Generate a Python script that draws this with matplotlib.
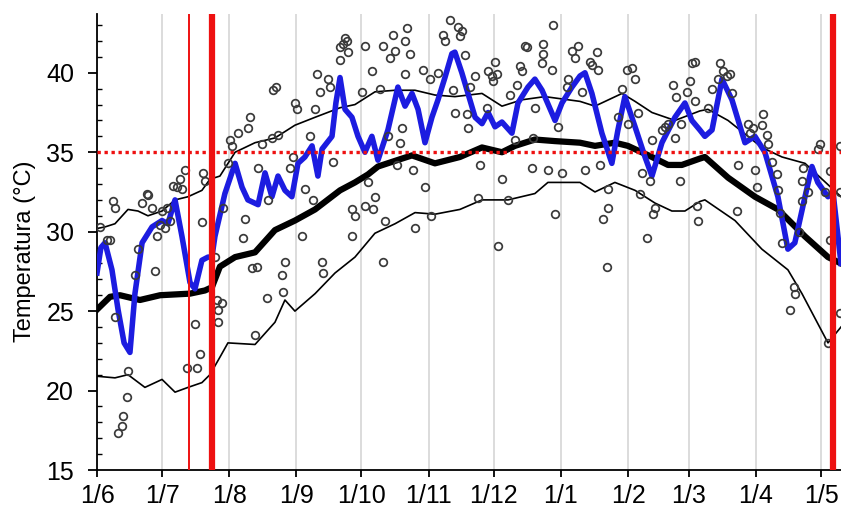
import matplotlib
matplotlib.use("Agg")
import matplotlib.pyplot as plt
from matplotlib.ticker import MultipleLocator

plt.rcParams['font.family'] = ['Liberation Sans', 'DejaVu Sans']

# ---- data (x = days since 1 June) ----
month_days = [0, 30, 61, 92, 122, 153, 183, 214, 245, 273, 304, 334]
month_labels = ['1/6', '1/7', '1/8', '1/9', '1/10', '1/11', '1/12',
                '1/1', '1/2', '1/3', '1/4', '1/5']

mean_days = [0, 6.0, 10.6, 19.8, 29.1, 42.9, 49.8, 53.0, 56.7, 63.7, 72.9, 82.1,
             91.3, 100.6, 112.1, 119.0, 125.0, 129.6, 140.7, 145.3, 155.9, 167.4,
             177.6, 186.8, 192.8, 202.0, 211.3, 222.8, 229.7, 238.9, 244.9, 256.0,
             263.4, 269.8, 278.1, 280.4, 291.1, 303.5, 314.1, 326.6, 337.2, 343.2]
mean_vals = [25.1, 25.9, 26.0, 25.7, 26.0, 26.1, 26.3, 26.5, 27.8, 28.4, 28.7, 30.1,
             30.7, 31.4, 32.6, 33.1, 33.6, 34.1, 34.6, 34.8, 34.3, 34.7,
             35.3, 35.0, 35.4, 35.8, 35.7, 35.6, 35.4, 35.6, 35.4, 34.7,
             34.2, 34.2, 34.6, 34.7, 33.4, 32.2, 31.4, 29.7, 28.4, 28.0]

upper_days = [0, 3.7, 8.3, 14.3, 18.9, 23.5, 30.0, 36.0, 42.0, 48.4, 52.1, 56.7,
              63.7, 72.9, 82.1, 91.3, 100.6, 112.1, 119.0, 128.2, 137.5, 146.7,
              155.9, 165.1, 177.6, 186.8, 196.0, 206.6, 222.8, 229.7, 242.2, 248.2,
              256.0, 266.6, 278.1, 281.8, 291.1, 306.7, 316.0, 326.6, 343.2]
upper_vals = [30.2, 30.3, 30.5, 31.4, 31.3, 31.0, 31.3, 32.0, 32.2, 32.6, 33.3, 33.5,
              35.0, 35.6, 35.9, 36.7, 37.2, 37.8, 38.0, 38.8, 38.9, 38.9,
              38.6, 38.5, 38.7, 37.9, 38.3, 38.5, 38.2, 37.9, 38.7, 38.2,
              37.5, 37.0, 37.6, 37.7, 37.0, 35.3, 34.7, 34.3, 32.2]

lower_days = [0, 8.3, 14.3, 22.1, 30.0, 36.0, 42.0, 48.4, 52.1, 56.7, 60.4, 72.9,
              82.1, 86.7, 91.3, 100.6, 109.8, 119.0, 128.2, 137.5, 146.7, 155.9,
              167.4, 177.6, 189.6, 202.0, 208.0, 222.8, 229.7, 238.9, 248.2, 257.4,
              265.2, 271.2, 278.1, 280.4, 294.3, 306.7, 318.7, 325.2, 337.2, 343.2]
lower_vals = [20.9, 20.8, 21.0, 20.2, 20.7, 19.9, 20.2, 20.5, 21.0, 22.1, 23.0, 22.9,
              24.3, 25.7, 25.0, 26.1, 27.4, 28.4, 29.9, 30.5, 31.2, 31.1,
              31.4, 32.0, 32.0, 32.4, 33.1, 33.1, 32.5, 33.1, 32.6, 31.8,
              31.3, 31.3, 31.9, 32.0, 30.7, 28.9, 27.6, 26.1, 23.0, 24.0]

blue_days = [0, 1.8, 3.7, 6.9, 9.7, 12.5, 15.2, 17.5, 20.8, 25.4, 30.0, 32.7,
             36.0, 39.2, 42.9, 45.2, 48.4, 51.2, 53.0, 54.4, 59.0, 63.7, 66.9,
             69.6, 74.3, 77.5, 80.7, 83.5, 86.7, 89.9, 92.7, 95.9, 99.2, 101.9,
             103.8, 108.4, 110.2, 112.1, 114.4, 117.6, 120.4, 123.6, 126.8, 129.6,
             134.2, 138.8, 142.1, 145.3, 148.1, 151.3, 154.5, 157.3, 160.5, 163.7,
             165.1, 168.3, 174.4, 177.6, 180.4, 183.6, 186.8, 191.4, 194.2, 198.8,
             202.0, 205.3, 211.3, 214.5, 219.1, 222.8, 225.1, 228.3, 232.9, 237.5,
             240.3, 243.5, 248.2, 252.8, 256.0, 260.6, 266.6, 271.2, 274.4, 278.1,
             280.4, 283.7, 288.3, 292.9, 298.9, 303.5, 308.1, 314.1, 318.7, 321.9,
             326.6, 329.8, 332.5, 337.2, 339.5, 343.2]
blue_vals = [27.4, 29.0, 29.3, 27.6, 25.1, 23.0, 22.4, 26.1, 29.3, 30.3, 30.7, 30.5,
             32.0, 29.7, 26.8, 26.4, 28.2, 28.4, 28.4, 29.7, 32.4, 34.3, 32.8,
             32.0, 31.7, 33.7, 32.2, 33.5, 32.6, 32.2, 34.3, 34.7, 35.4, 33.5,
             35.2, 36.0, 38.1, 39.7, 37.7, 37.2, 36.0, 35.0, 36.0, 34.5,
             36.4, 39.1, 37.9, 38.7, 37.7, 35.6, 37.2, 38.3, 39.7, 41.2,
             41.3, 40.0, 37.2, 36.8, 37.5, 36.6, 36.9, 36.2, 38.1, 39.1,
             39.6, 38.9, 37.0, 38.1, 39.1, 39.8, 40.0, 38.7, 36.2, 34.3,
             36.4, 38.5, 36.6, 34.7, 33.5, 35.6, 37.2, 38.1, 37.0, 36.4,
             36.0, 36.4, 39.6, 38.3, 35.6, 36.0, 35.0, 32.2, 28.9, 29.3,
             32.2, 34.1, 33.1, 32.2, 32.5, 28.0]

obs_days = [1.4, 4.5, 6.0, 7.5, 8.3, 8.3, 9.8, 11.4, 12.1, 13.7, 14.4, 17.5, 19.1,
            20.6, 22.9, 23.7, 25.2, 26.7, 27.5, 29.1, 29.8, 31.4, 32.1, 33.7, 35.2,
            36.8, 38.3, 39.1, 40.6, 41.4, 45.2, 45.9, 47.5, 48.3, 49.0, 49.8, 54.4,
            55.2, 56.0, 56.0, 57.5, 58.3, 60.6, 61.3, 62.1, 65.2, 67.5, 68.3, 69.8,
            70.6, 71.3, 72.9, 73.7, 74.4, 76.0, 78.3, 79.0, 80.6, 81.3, 82.8, 83.6,
            85.2, 85.9, 86.7, 89.0, 90.5, 91.3, 92.1, 94.4, 95.9, 98.2, 99.8, 100.5,
            101.3, 102.8, 103.6, 104.4, 106.7, 107.4, 109.0, 112.1, 112.1, 113.6,
            114.4, 115.1, 115.9, 117.4, 117.4, 119.0, 122.1, 123.6, 123.6, 125.2,
            126.7, 127.4, 128.2, 130.5, 132.1, 132.1, 132.8, 134.4, 135.2, 136.7,
            137.4, 138.2, 139.8, 140.5, 142.1, 142.1, 142.8, 144.4, 145.9, 146.7,
            150.5, 151.3, 153.6, 154.3, 157.4, 159.7, 160.5, 162.8, 164.4, 165.1,
            166.7, 167.4, 168.2, 169.7, 170.5, 171.3, 172.0, 174.3, 175.9, 176.6,
            179.7, 180.5, 182.0, 182.8, 183.6, 184.3, 185.1, 186.6, 189.7, 190.5,
            192.8, 193.6, 195.1, 195.9, 197.4, 198.2, 200.5, 201.3, 202.1, 205.1,
            205.9, 205.9, 208.2, 209.7, 210.5, 211.2, 212.8, 214.3, 216.6, 217.4,
            218.9, 220.5, 222.0, 223.5, 225.1, 227.4, 228.2, 230.5, 231.2, 232.0,
            233.6, 235.1, 235.8, 235.8, 240.4, 242.0, 244.3, 245.1, 246.6, 248.1,
            249.7, 250.4, 251.2, 253.5, 255.0, 255.8, 256.5, 257.3, 260.4, 261.9,
            263.5, 265.8, 266.5, 267.3, 268.8, 269.6, 272.0, 273.5, 274.3, 275.8,
            275.8, 276.6, 277.4, 282.0, 283.5, 286.6, 287.4, 288.9, 290.5, 292.0,
            292.8, 295.1, 295.8, 300.4, 301.2, 302.7, 303.5, 304.3, 306.6, 307.4,
            308.9, 309.7, 311.2, 313.5, 314.3, 315.1, 315.9, 319.7, 321.3, 322.0,
            323.6, 325.1, 325.1, 325.8, 328.1, 332.7, 333.5, 335.8, 337.3, 338.1,
            338.1, 342.7, 342.7, 342.7]
obs_vals = [30.3, 29.5, 29.5, 31.9, 31.5, 24.6, 17.3, 17.8, 18.4, 19.6, 21.2, 27.3, 28.9,
            31.8, 32.4, 32.3, 31.5, 27.5, 29.7, 30.4, 31.3, 30.2, 31.5, 30.7, 32.9,
            32.8, 33.3, 32.7, 33.9, 21.4, 24.2, 21.4, 22.3, 30.6, 33.7, 33.2, 28.4,
            25.7, 25.1, 24.3, 25.5, 31.5, 34.3, 35.8, 35.4, 36.2, 29.6, 30.8, 36.5,
            37.2, 27.7, 23.5, 27.8, 34.0, 35.5, 25.8, 32.0, 35.9, 38.9, 39.1, 36.1,
            27.3, 26.2, 28.1, 34.0, 34.7, 38.1, 37.7, 29.7, 32.7, 36.0, 32.0, 37.7,
            39.9, 38.8, 28.1, 27.4, 39.6, 39.1, 34.4, 40.8, 41.6, 41.8,
            42.2, 42.0, 41.3, 31.4, 29.7, 31.0, 38.8, 41.7, 31.6, 33.1,
            40.1, 31.4, 32.2, 39.0, 41.7, 28.1, 30.7, 36.0, 40.9, 42.4,
            41.4, 34.2, 35.6, 36.5, 42.0, 39.9, 42.8, 41.2, 33.9, 30.2,
            40.2, 32.8, 39.6, 31.0, 40.0, 42.4, 42.0, 43.3, 38.9, 37.5,
            42.9, 42.3, 42.6, 41.1, 37.4, 36.5, 39.1, 39.8, 32.1, 34.2,
            37.8, 40.1, 39.8, 39.5, 40.7, 39.9, 29.1, 33.3, 32.0, 38.6,
            35.8, 39.2, 40.4, 40.1, 41.7, 41.6, 34.0, 35.9, 37.8, 40.6,
            41.8, 41.2, 33.9, 40.2, 43.0, 31.1, 36.6, 33.7, 39.1, 39.6,
            41.4, 40.9, 41.7, 38.8, 33.9, 40.7, 40.5, 41.3, 40.2, 34.2,
            30.8, 27.8, 32.7, 31.5, 37.2, 39.0, 40.2, 36.8, 40.3, 39.6,
            37.5, 32.4, 33.7, 29.6, 33.2, 35.8, 31.1, 31.5, 36.4, 36.6,
            36.8, 39.2, 35.9, 38.5, 33.2, 36.8, 38.8, 39.5, 40.6, 40.7,
            38.2, 31.6, 30.7, 37.8, 39.0, 39.6, 40.6, 40.1, 39.8, 39.9,
            38.7, 31.3, 34.2, 36.8, 36.2, 36.5, 33.9, 32.8, 36.7, 37.4,
            36.1, 35.5, 34.4, 33.6, 32.6, 31.2, 29.3, 25.1, 26.5, 26.1,
            30.0, 31.9, 33.2, 34.0, 32.5, 35.2, 35.5, 32.5, 23.0, 29.5,
            33.8, 35.4, 32.5, 24.9]

threshold = 35
red_thin_day = 42.4
red_thick_days = [53.0, 339.5]

# ---- figure ----
fig = plt.figure(figsize=(8.41, 5.13), dpi=100)
ax = fig.add_axes([97/841, 43/513, 744/841, 456/513])

for d in month_days:
    ax.axvline(d, color='#d2d2d2', lw=1.1, zorder=0)

ax.plot(lower_days, lower_vals, color='black', lw=1.2, zorder=2)
ax.plot(upper_days, upper_vals, color='black', lw=1.2, zorder=2)
ax.plot(mean_days, mean_vals, color='black', lw=4.5, zorder=3)
ax.plot(blue_days, blue_vals, color='#1c1ce0', lw=4.0, zorder=4,
        solid_joinstyle='round')
ax.plot(obs_days, obs_vals, linestyle='none', marker='o', markersize=5.5,
        markerfacecolor='none', markeredgecolor='#3a3a3a', markeredgewidth=1.25,
        zorder=5)

ax.axhline(threshold, color='#ee1111', lw=2.4, linestyle=(0, (1, 1.1)), zorder=6)
ax.axvline(red_thin_day, color='#ee1111', lw=1.4, zorder=6)
for d in red_thick_days:
    ax.axvline(d, color='#ee1111', lw=4.5, zorder=6)

ax.set_xlim(0, 343.2)
ax.set_ylim(15, 43.7)
ax.set_xticks(month_days)
ax.set_xticklabels(month_labels)
ax.yaxis.set_major_locator(MultipleLocator(5))
ax.yaxis.set_minor_locator(MultipleLocator(1))

for s in ['top', 'right']:
    ax.spines[s].set_visible(False)
for s in ['left', 'bottom']:
    ax.spines[s].set_linewidth(1.3)
    ax.spines[s].set_color('black')

ax.tick_params(axis='y', which='major', direction='out', length=6.5, width=1.3,
               labelsize=18, pad=10)
ax.tick_params(axis='y', which='minor', direction='in', length=3.5, width=1.0)
ax.tick_params(axis='x', which='major', direction='out', length=5, width=1.3,
               labelsize=18, pad=5)

ax.set_ylabel('Temperatura (°C)', fontsize=17, labelpad=6)
ax.yaxis.set_label_coords(-0.082, 0.48)

fig.savefig('out.png', dpi=100)
